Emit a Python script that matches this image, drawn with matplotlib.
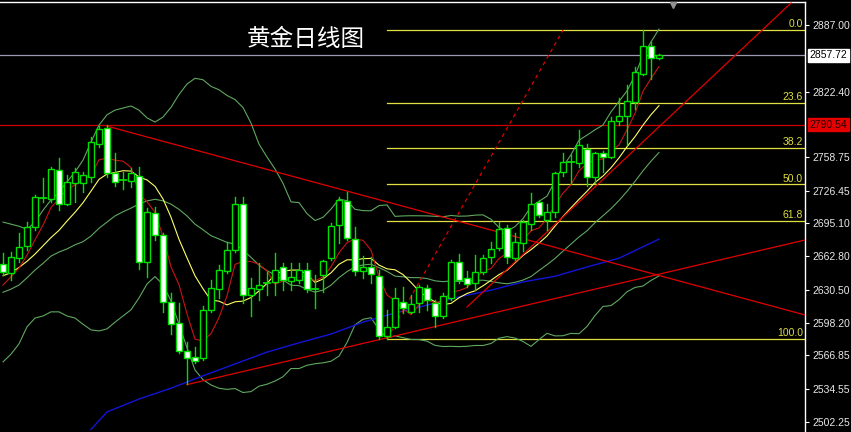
import numpy as np
import pandas as pd
import matplotlib
matplotlib.use("Agg")
import matplotlib.pyplot as plt
import matplotlib.transforms as mtransforms
from matplotlib.patches import Rectangle

plt.rcParams['font.family'] = ['Noto Sans CJK SC', 'DejaVu Sans']

# daily bars, oldest first
opens = [2655, 2647, 2661.5, 2673, 2691.5, 2718.5, 2718, 2746.5, 2714, 2734,
         2734, 2740, 2772, 2787, 2743.5, 2737, 2736, 2741, 2657.5, 2704.5,
         2683.5, 2619, 2598, 2571.5, 2565, 2564, 2611, 2631, 2649, 2669,
         2714, 2625.5, 2631, 2636.5, 2638, 2652, 2639, 2640, 2649.5, 2631,
         2644.5, 2661, 2693, 2716.5, 2679.5, 2649, 2652, 2644, 2585.5, 2594.5,
         2619, 2609, 2618, 2632, 2618, 2604.5, 2622, 2657.5, 2642, 2636.5,
         2648, 2662, 2670.5, 2690, 2661, 2676, 2694.5, 2715, 2698, 2706,
         2745, 2754.5, 2753, 2766.5, 2740, 2762.5, 2759, 2793.5, 2799, 2812.5,
         2840, 2866.5, 2855]
highs = [2666, 2667, 2685, 2696, 2722, 2738.5, 2749.5, 2758, 2741.5, 2748,
         2745, 2778.5, 2789, 2790.5, 2762.5, 2745, 2748.5, 2749.5, 2709.5, 2710.5,
         2685, 2627, 2617.5, 2580, 2575, 2615, 2640, 2654.5, 2677, 2720,
         2720, 2641.5, 2656.5, 2648, 2666.5, 2656, 2656, 2656.5, 2656, 2644.5,
         2659, 2695, 2720.5, 2725.5, 2691.5, 2663, 2662, 2649.5, 2611, 2632,
         2633, 2625.5, 2635, 2635, 2620.5, 2627, 2659, 2665.5, 2649, 2664,
         2664, 2677, 2696.5, 2693, 2685, 2698, 2724, 2717, 2714, 2745,
         2762.5, 2761, 2785, 2771.5, 2764, 2765, 2798, 2816, 2829, 2846.5,
         2882, 2871, 2858.5]
lows = [2645, 2640, 2657.5, 2669, 2688, 2715.5, 2715.5, 2707.5, 2712.5, 2715.5,
        2725.5, 2735, 2769, 2740, 2731, 2728.5, 2730, 2651, 2643, 2678.5,
        2609, 2588, 2569, 2539, 2559, 2562.5, 2609, 2622.5, 2646.5, 2667,
        2617.5, 2604.5, 2620.5, 2625, 2625, 2630, 2630, 2637, 2628.5, 2612.5,
        2628.5, 2659, 2675.5, 2678.5, 2644.5, 2641.5, 2636.5, 2583, 2583, 2593,
        2607.5, 2607.5, 2609, 2611, 2594.5, 2603, 2620.5, 2636.5, 2633.5, 2630,
        2645.5, 2656, 2669, 2656, 2659, 2667.5, 2688, 2701, 2688, 2701,
        2740.5, 2734, 2749.5, 2730.5, 2733.5, 2744.5, 2758, 2790, 2770.5, 2806,
        2838.5, 2835, 2854]
closes = [2648, 2662, 2672, 2691.5, 2720.5, 2719, 2747.5, 2714, 2735, 2745,
          2741.5, 2774, 2786, 2743.5, 2735, 2736.5, 2744, 2657.5, 2705.5, 2683.5,
          2619, 2597, 2571.5, 2564, 2561, 2611, 2632, 2649.5, 2669, 2713.5,
          2625.5, 2632, 2635, 2637, 2650, 2640, 2643, 2650, 2631, 2631.5,
          2658.5, 2692.5, 2717.5, 2680.5, 2649, 2652, 2645.5, 2585.5, 2594.5, 2622,
          2612.5, 2616.5, 2633.5, 2620.5, 2605, 2624.5, 2657.5, 2640, 2636, 2648,
          2661, 2669.5, 2689, 2662, 2677, 2696.5, 2713.5, 2703, 2706, 2743.5,
          2754.5, 2754, 2770.5, 2740, 2762.5, 2759, 2793.5, 2799, 2813.5, 2841.5,
          2866.5, 2855, 2857.72]

# first values of the averages (older bars are off screen)
ma5_head = [2635, 2643, 2651.5, 2664]
ma10_head = [2644, 2647, 2652, 2658, 2665, 2673, 2681, 2688, 2697]
bb_mid_head = [2628, 2631, 2635, 2642, 2649.5, 2656, 2663, 2667, 2670, 2674,
               2677, 2682.5, 2690, 2696, 2702, 2706, 2709.5, 2713.5, 2716.5]
bb_up_head = [2696, 2694, 2692, 2689, 2696, 2707.5, 2717.5, 2725, 2735, 2744.5,
              2756, 2773.5, 2790, 2800, 2804.5, 2806.5, 2808.5, 2804.5, 2797]
bb_low_head = [2560.5, 2568, 2578, 2594.5, 2603, 2605, 2609, 2609, 2605, 2603,
               2597, 2591.5, 2590.5, 2592.5, 2599, 2605, 2611, 2622.5, 2636]

# long moving average (blue)
ma_long_idx = [11, 13, 17, 21, 25, 29, 33, 37, 41, 45, 49, 53, 57, 61, 65, 69, 73, 77, 82]
ma_long_val = [2495, 2512, 2524.5, 2535, 2547, 2558.5, 2570, 2579, 2587.5, 2599, 2608,
               2615.5, 2623.5, 2630, 2638, 2643.5, 2652.5, 2661, 2679.5]

# fibonacci retracement
fib_high = 2882.2
fib_low = 2582.7
fib_start = 48
fib_levels = [0.0, 23.6, 38.2, 50.0, 61.8, 100.0]

price_now = 2857.72
price_mark = 2790.54
axis_ticks = [2887.00, 2822.40, 2758.75, 2726.45, 2695.10, 2662.80,
              2630.50, 2598.20, 2566.85, 2534.55, 2502.25]

# hand drawn lines: (bar, price) -> (bar, price)
trend_lines = [((13, 2789.0), (101, 2604.4)),
               ((23, 2538.5), (101, 2680.0)),
               ((58, 2613.7), (98.5, 2908.3))]
dash_line = ((48, 2583.0), (70, 2882.0))

W, H = 851, 432
fig = plt.figure(figsize=(W / 100, H / 100), dpi=100, facecolor='black')
ax = fig.add_axes([0, 0, 805 / W, 430 / H], facecolor='black')

n = len(closes)
x = np.arange(n)
c = pd.Series(closes)

ma5 = c.rolling(5).mean().to_numpy()
ma5[:4] = ma5_head
ma10 = c.rolling(10).mean().to_numpy()
ma10[:9] = ma10_head
mid = c.rolling(20).mean()
sd = c.rolling(20).std(ddof=0)
bb_mid = mid.to_numpy()
bb_up = (mid + 2 * sd).to_numpy()
bb_low = (mid - 2 * sd).to_numpy()
bb_mid[:19] = bb_mid_head
bb_up[:19] = bb_up_head
bb_low[:19] = bb_low_head

x_lo, x_hi = -0.375, 100.25
ax.set_xlim(x_lo, x_hi)
ax.set_ylim(2492.56, 2909.3)

# horizontal reference lines
ax.axhline(price_now, color='#9a9aae', lw=0.9, zorder=1)
ax.axhline(price_mark, color='#d00000', lw=0.9, zorder=1)

# fibonacci levels
for lv in fib_levels:
    p = fib_high - lv / 100 * (fib_high - fib_low)
    ax.plot([fib_start, x_hi], [p, p], color='#e0e040', lw=0.9, zorder=2)
    ax.text(x_hi - 0.25, p + 0.8, f"{lv:.1f}", color='#e0e040', fontsize=7.5,
            family='Liberation Sans', ha='right', va='bottom', zorder=6)

# indicators
bb_col = '#5fa85f'
ax.plot(x, bb_up, color=bb_col, lw=0.8, zorder=3)
ax.plot(x, bb_mid, color=bb_col, lw=0.8, zorder=3)
ax.plot(x, bb_low, color=bb_col, lw=0.8, zorder=3)
ax.plot(ma_long_idx, ma_long_val, color='#1414d8', lw=1.0, zorder=3)
ax.plot(x, ma10, color='#ffff66', lw=0.8, zorder=4)
ax.plot(x, ma5, color='#c81414', lw=0.8, zorder=4)

for (x0, y0), (x1, y1) in trend_lines:
    ax.plot([x0, x1], [y0, y1], color='#e00000', lw=0.9, zorder=4)
(x0, y0), (x1, y1) = dash_line
ax.plot([x0, x1], [y0, y1], color='#e00000', lw=0.9, ls=(0, (3, 3)), zorder=4)

# candles
green = '#00e000'
bw = 0.66
for i in range(n):
    o, hi, lo, cl = opens[i], highs[i], lows[i], closes[i]
    ax.plot([i, i], [lo, hi], color=green, lw=1.0, zorder=5)
    bottom = min(o, cl)
    height = abs(cl - o)
    if height < 1.0:
        ax.plot([i - bw / 2, i + bw / 2], [cl, cl], color=green, lw=1.3, zorder=6)
    else:
        face = 'black' if cl >= o else 'white'
        ax.add_patch(Rectangle((i - bw / 2, bottom), bw, height, facecolor=face,
                               edgecolor=green, lw=1.0, zorder=6))

# frame: white top and right edges only
for side in ['left', 'bottom']:
    ax.spines[side].set_visible(False)
for side in ['top', 'right']:
    ax.spines[side].set_color('white')
    ax.spines[side].set_linewidth(1.0)
ax.set_xticks([])
ax.yaxis.tick_right()
ax.set_yticks(axis_ticks)
ax.set_yticklabels([f"{t:.2f}" for t in axis_ticks])
ax.tick_params(axis='y', colors='white', length=3, width=0.8, pad=2,
               labelsize=7.5, labelcolor='#e8e8e8')
for lab in ax.get_yticklabels():
    lab.set_family('Liberation Sans')

# price boxes on the axis
trans = mtransforms.blended_transform_factory(ax.transAxes, ax.transData)
ax.text(1.006, price_now, f"{price_now:.2f}", transform=trans, color='black',
        fontsize=7.5, family='Liberation Sans', ha='left', va='center',
        bbox=dict(facecolor='white', edgecolor='white', pad=1.2), clip_on=False, zorder=10)
ax.text(1.006, price_mark, f"{price_mark:.2f}", transform=trans, color='#200000',
        fontsize=7.5, family='Liberation Sans', ha='left', va='center',
        bbox=dict(facecolor='#e60000', edgecolor='#e60000', pad=1.2), clip_on=False, zorder=10)

# shift marker at the top
ax.plot([83.75], [2906], marker='v', color='#909090', ms=5, zorder=7, clip_on=False)

fig.text(306 / W, 1 - 40 / H, "黄金日线图", color='white', fontsize=17,
         ha='center', va='center')

fig.savefig("out.png", dpi=100, facecolor='black')
